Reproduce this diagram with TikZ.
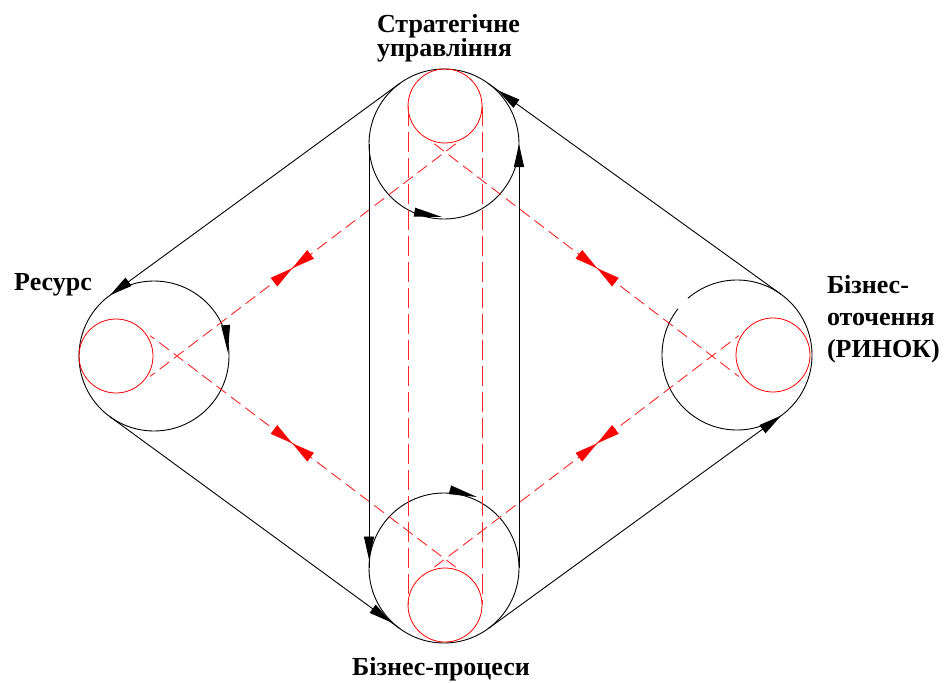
\documentclass[tikz,border=0pt]{standalone}
\usepackage{fontspec}
\setmainfont{Liberation Serif}
\usetikzlibrary{arrows.meta,decorations.markings,calc}
\tikzset{
  blacktip/.tip={Triangle[length=23pt,width=10pt]},
  bigc/.style={circle,draw=black,line width=0.9pt,minimum size=150pt,inner sep=0pt,outer sep=0pt},
  bigcn/.style={circle,minimum size=150pt,inner sep=0pt,outer sep=0pt},
  redc/.style={circle,draw=red,line width=0.8pt,minimum size=74pt,inner sep=0pt,outer sep=0pt},
  blk/.style={draw=black,line width=0.9pt},
  rdash/.style={draw=red!85,line width=0.9pt,dash pattern=on 12pt off 6pt},
  rvdash/.style={draw=red!85,line width=0.9pt,dash pattern=on 20pt off 6pt},
  arrowat/.style={postaction={decorate},decoration={markings,mark=at position #1 with {\arrow{blacktip}}}},
  dblat/.style={postaction={decorate},decoration={markings,mark=at position #1 with {\fill[red] (0,0)--(-23,5.5)--(-23,-5.5)--cycle (0,0)--(23,5.5)--(23,-5.5)--cycle;}}},
  lbl/.style={font=\bfseries\fontsize{26}{24}\selectfont,inner sep=0pt,outer sep=0pt},
  tri/.pic={\fill[black] (0,0)--(-28,4.5)--(-28,-4.5)--cycle;}
}
\begin{document}
\begin{tikzpicture}[x=1pt,y=1pt]
\useasboundingbox (0,0) rectangle (944,-682);
\fill[white] (0,0) rectangle (944,-682);
% big circles
\node[bigc] (T) at (444,-144) {};
\node[bigc] (L) at (154,-356) {};
\node[bigcn] (R) at (737,-355) {};
\draw[blk] ([shift={(142:75)}]R.center) arc[start angle=142,end angle=491,radius=75];
\node[bigc] (B) at (444,-568) {};
% red circles
\node[redc] (t) at (445,-106) {};
\node[redc] (l) at (116,-356) {};
\node[redc] (r) at (773,-355) {};
\node[redc] (b) at (445,-605) {};
% crossing points of dashed lines
\coordinate (XT) at (445,-152);
\coordinate (XL) at (177,-356);
\coordinate (XR) at (712,-356);
\coordinate (XB) at (445,-559);
% red dashed verticals
\draw[rvdash] (t.west) -- (b.west);
\draw[rvdash] (t.east) -- (b.east);
% red dashed diagonals
\draw[rdash,dblat=0.535] ($(XT)!-0.04!(XL)$) -- ($(XL)!-0.1!(XT)$);
\draw[rdash,dblat=0.535] ($(XT)!-0.04!(XR)$) -- ($(XR)!-0.1!(XT)$);
\draw[rdash,dblat=0.535] ($(XB)!-0.04!(XL)$) -- ($(XL)!-0.1!(XB)$);
\draw[rdash,dblat=0.535] ($(XB)!-0.04!(XR)$) -- ($(XR)!-0.1!(XB)$);
% black tangent connectors
\draw[blk,-{blacktip}] (T.126) -- (L.126);
\draw[blk,arrowat=0.97] (L.234) -- (B.234);
\draw[blk,-{blacktip}] (B.306) -- (R.306);
\draw[blk,arrowat=0.967] (R.54) -- (T.54);
% black verticals
\draw[blk,arrowat=0.98] (T.west) -- (B.west);
\draw[blk,-{blacktip}] (B.east) -- (T.east);
% arrowheads on circles
\pic[rotate=-10] at (442,-217) {tri};
\pic[rotate=-15] at (477,-497) {tri};
\pic[rotate=-85] at (228,-353) {tri};
% labels
\node[lbl,align=left,anchor=north west] (st) at (377,-14) {Стратегічне\\управління};
\node[lbl,anchor=base] (res) at (53,-290) {Ресурс};
\node[lbl,anchor=base west] (bo1) at (827,-293) {Бізнес-};
\node[lbl,anchor=base west] (bo2) at (827,-325) {оточення};
\node[lbl,anchor=base west] (bo3) at (827,-357) {(РИНОК)};
\node[lbl,anchor=base] (bp) at (441,-675) {Бізнес-процеси};
\end{tikzpicture}
\end{document}
